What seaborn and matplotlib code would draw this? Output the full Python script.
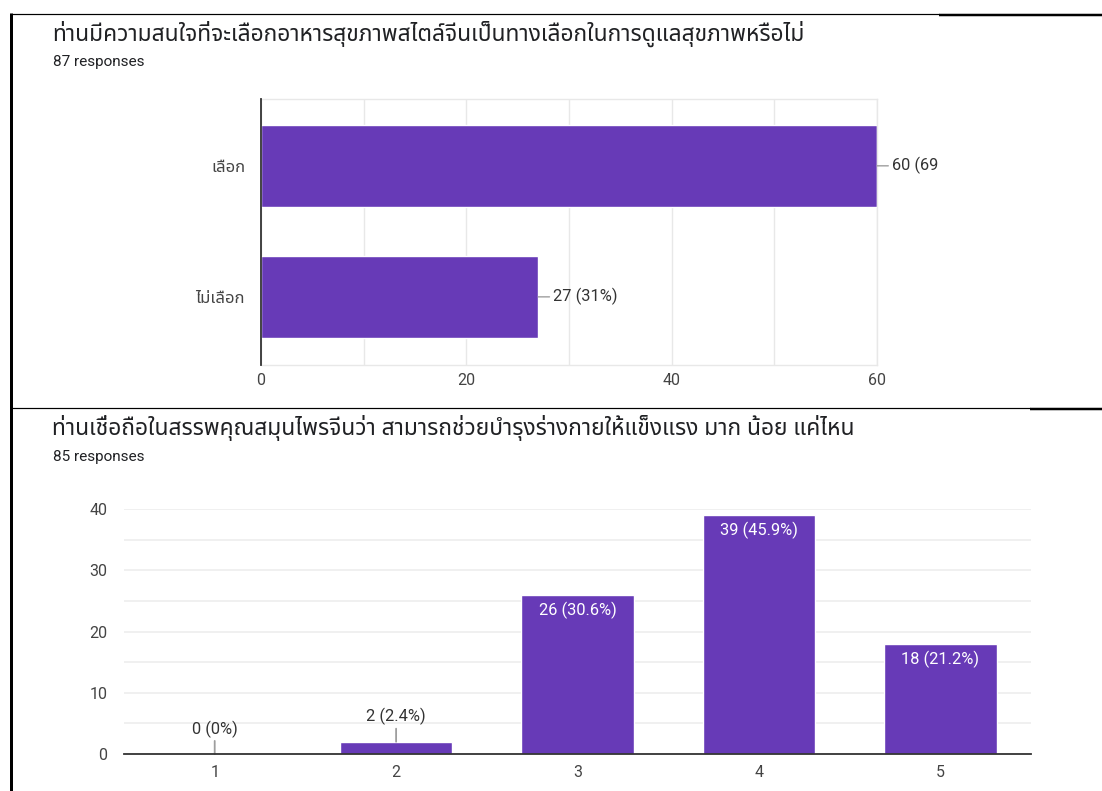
import matplotlib
matplotlib.use("Agg")
import matplotlib.pyplot as plt
import seaborn as sns
import pandas as pd
from matplotlib import font_manager
from matplotlib.ft2font import FT2Font
from matplotlib.lines import Line2D
from matplotlib.transforms import Bbox

# ---------------- data ----------------
q1_title = "ท่านมีความสนใจที่จะเลือกอาหารสุขภาพสไตล์จีนเป็นทางเลือกในการดูแลสุขภาพหรือไม่"
q1_responses = "87 responses"
q1_categories = ["เลือก", "ไม่เลือก"]
q1_counts = [60, 27]
q1_labels = ["60 (69%)", "27 (31%)"]
q1_xticks = [0, 20, 40, 60]

q2_title = "ท่านเชื่อถือในสรรพคุณสมุนไพรจีนว่า สามารถช่วยบำรุงร่างกายให้แข็งแรง มาก น้อย แค่ไหน"
q2_responses = "85 responses"
q2_categories = ["1", "2", "3", "4", "5"]
q2_counts = [0, 2, 26, 39, 18]
q2_labels = ["0 (0%)", "2 (2.4%)", "26 (30.6%)", "39 (45.9%)", "18 (21.2%)"]
q2_yticks = [0, 10, 20, 30, 40]

PURPLE = "#673ab7"
W, H = 1102, 791


def find_thai_family():
    pref = ["Noto Sans Thai", "Noto Sans Thai UI", "Sarabun", "Loma", "Garuda",
            "Tlwg Typo", "Umpush", "Waree", "Kinnari", "Norasi"]
    found = []
    for f in font_manager.fontManager.ttflist:
        try:
            cm = FT2Font(f.fname).get_charmap()
        except Exception:
            continue
        if 0x0E17 in cm and 0x0E48 in cm:
            found.append(f.name)
    for p in pref:
        if p in found:
            return p
    return found[0] if found else None


sns.set_theme(style="white")
thai = find_thai_family()
LATIN = ["Roboto", "DejaVu Sans"]
THAI = ([thai] if thai else []) + ["DejaVu Sans"]
plt.rcParams["font.family"] = LATIN

fig = plt.figure(figsize=(W / 100, H / 100), dpi=100)
fig.patch.set_facecolor("white")


def fx(x):
    return x / W


def fy(y):
    return 1 - y / H


def hline(x0, x1, y, lw):
    fig.add_artist(Line2D([fx(x0), fx(x1)], [fy(y), fy(y)], transform=fig.transFigure,
                          color="black", lw=lw * 0.72, solid_capstyle="butt"))


# frame lines
hline(10, 939, 13.5, 1.2)
hline(939, W, 14.5, 2.5)
hline(10, 1030, 407.5, 1.2)
hline(1030, W, 408.5, 2.5)
fig.add_artist(Line2D([fx(10.5), fx(10.5)], [fy(13), fy(H)], transform=fig.transFigure,
                      color="black", lw=3 * 0.72, solid_capstyle="butt"))

TITLE_C = "#202124"
# titles
fig.text(fx(52), fy(34), q1_title, family=THAI, fontsize=16.4, color=TITLE_C, va="center", ha="left")
fig.text(fx(53), fy(62), q1_responses, family=LATIN, fontsize=11, color=TITLE_C, va="center", ha="left")
fig.text(fx(52), fy(428), q2_title, family=THAI, fontsize=16.4, color=TITLE_C, va="center", ha="left")
fig.text(fx(53), fy(457), q2_responses, family=LATIN, fontsize=11, color=TITLE_C, va="center", ha="left")

GRID = "#e8e8e8"
TICK = "#444444"
LABEL_C = "#333333"

# ---------------- chart 1 (horizontal bars) ----------------
ax1 = fig.add_axes([fx(261), fy(365), (877 - 261) / W, (365 - 99) / H])
df1 = pd.DataFrame({"choice": q1_categories, "count": q1_counts})
sns.barplot(data=df1, x="count", y="choice", orient="h", color=PURPLE, saturation=1,
            width=0.63, ax=ax1, zorder=2)
ax1.set_xlim(0, 60)
ax1.set_ylim(1.52, -0.51)
ax1.set_xticks(q1_xticks)
ax1.set_xticks(range(0, 61, 10), minor=True)
ax1.grid(True, axis="x", which="both", color=GRID, lw=1, zorder=0)
ax1.set_axisbelow(True)
ax1.set_xlabel("")
ax1.set_ylabel("")
for s in ["top", "right", "bottom"]:
    ax1.spines[s].set_color(GRID)
    ax1.spines[s].set_linewidth(1)
ax1.spines["left"].set_color("#333333")
ax1.spines["left"].set_linewidth(1.3)
ax1.spines["left"].set_zorder(5)
ax1.tick_params(axis="both", which="both", length=0)
ax1.tick_params(axis="y", pad=11.5, labelsize=12, labelcolor=TICK)
ax1.tick_params(axis="x", pad=6, labelsize=11.5, labelcolor=TICK)
for lab in ax1.get_yticklabels():
    lab.set_fontfamily(THAI)
for lab in ax1.get_xticklabels():
    lab.set_fontfamily(LATIN)

clip = Bbox.from_extents(0, 0, 939, H)
for i, (v, t) in enumerate(zip(q1_counts, q1_labels)):
    ann = ax1.annotate(t, xy=(v, i), xytext=(10.5, 0), textcoords="offset points",
                       ha="left", va="center", fontsize=11.8, color=LABEL_C,
                       family=LATIN, annotation_clip=False,
                       arrowprops=dict(arrowstyle="-", color="#9e9e9e", lw=1,
                                       shrinkA=0, shrinkB=0))
    ann.set_clip_box(clip)
    ann.set_clip_on(True)

# ---------------- chart 2 (vertical bars) ----------------
ax2 = fig.add_axes([fx(124), fy(754), (1031 - 124) / W, (754 - 509) / H])
df2 = pd.DataFrame({"score": q2_categories, "count": q2_counts})
sns.barplot(data=df2, x="score", y="count", color=PURPLE, saturation=1, width=0.62,
            ax=ax2, zorder=2)
ax2.set_xlim(-0.5, 4.5)
ax2.set_ylim(0, 40)
ax2.set_yticks(q2_yticks)
ax2.set_yticks(range(0, 41, 5), minor=True)
ax2.grid(True, axis="y", which="both", color="#ededed", lw=1.2, zorder=0)
ax2.set_axisbelow(True)
ax2.set_xlabel("")
ax2.set_ylabel("")
for s in ["top", "right", "left"]:
    ax2.spines[s].set_visible(False)
ax2.spines["bottom"].set_color("#333333")
ax2.spines["bottom"].set_linewidth(1.3)
ax2.spines["bottom"].set_zorder(5)
ax2.tick_params(axis="both", which="both", length=0)
ax2.tick_params(axis="y", pad=12, labelsize=11.5, labelcolor=TICK)
ax2.tick_params(axis="x", pad=8, labelsize=11.5, labelcolor=TICK)

for i, (v, t) in enumerate(zip(q2_counts, q2_labels)):
    if v >= 10:
        ax2.annotate(t, xy=(i, v), xytext=(0, -11), textcoords="offset points",
                     ha="center", va="center", fontsize=11.8, color="white", family=LATIN)
    else:
        ax2.annotate(t, xy=(i, v), xytext=(0, 18), textcoords="offset points",
                     ha="center", va="center", fontsize=11.8, color=LABEL_C, family=LATIN,
                     annotation_clip=False,
                     arrowprops=dict(arrowstyle="-", color="#9e9e9e", lw=1.3,
                                     shrinkA=0, shrinkB=0))

fig.savefig("out.png", dpi=100, facecolor="white")
